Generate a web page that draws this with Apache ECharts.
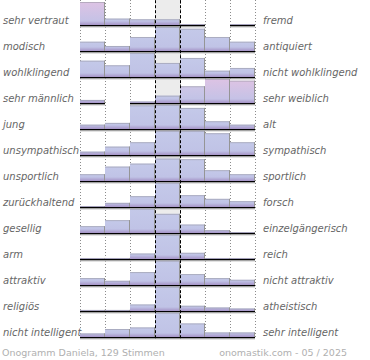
<!DOCTYPE html>
<html><head><meta charset="utf-8">
<script src="https://cdn.jsdelivr.net/npm/echarts@6/dist/echarts.min.js"></script>
<style>html,body{margin:0;padding:0;background:#fff}#c{width:370px;height:360px}</style>
</head><body><div id="c"></div>
<script>
// ---- data ----
const leftLabels = ['sehr vertraut','modisch','wohlklingend','sehr männlich','jung','unsympathisch','unsportlich','zurückhaltend','gesellig','arm','attraktiv','religiös','nicht intelligent'];
const rightLabels = ['fremd','antiquiert','nicht wohlklingend','sehr weiblich','alt','sympathisch','sportlich','forsch','einzelgängerisch','reich','nicht attraktiv','atheistisch','sehr intelligent'];
const steps = ['1','2','3','4','5','6','7'];
// percent of votes per step (tall bars are cut off at the row height)
const sehrVertraut     = [79.3, 6.7, 6, 6, 1, 0, 1];
const modisch          = [9.3, 5, 14, 26.7, 22.3, 14, 9.3];
const wohlklingend     = [16.3, 11.7, 26, 14, 19, 6.3, 9];
const sehrMaennlich    = [3, 0, 1.5, 7.3, 16.7, 49, 22.3];
const jung             = [4.3, 6, 23.6, 33, 21, 7.7, 4.3];
const unsympathisch    = [3.3, 8.3, 12.7, 24.5, 24.5, 21.7, 12.7];
const unsportlich      = [6.7, 14.3, 17.3, 22.3, 21.7, 10.7, 6.7];
const zurueckhaltend   = [0.8, 4, 10.7, 59, 11.7, 8, 5.7];
const gesellig         = [6.7, 12.7, 50, 19, 8.3, 2.7, 0.8];
const arm              = [0.8, 0.8, 5.3, 85, 6, 0.8, 0.8];
const attraktiv        = [6.7, 4, 12.7, 54, 10.7, 6.7, 5];
const religioes        = [0.8, 0.8, 6.3, 81, 5, 3.3, 2.3];
const nichtIntelligent = [3.3, 7.7, 9.3, 58, 13.3, 4.3, 4.3];
const rows = [sehrVertraut, modisch, wohlklingend, sehrMaennlich, jung, unsympathisch, unsportlich, zurueckhaltend, gesellig, arm, attraktiv, religioes, nichtIntelligent];
// [row, step, strength] cells marked as standing out
const highlighted = [[0,0,1],[3,4,0.4],[3,5,1],[3,6,1]];
const neutralStep = 3;
const footerLeft = 'Onogramm Daniela, 129 Stimmen';
const footerRight = 'onomastik.com - 05 / 2025';

// ---- layout ----
const L = 80, W = 175, firstBase = 25, pitch = 25.975, rowMax = 26;
const font = 'DejaVu Sans';

function mixColor(a, b, t) {
  const pa = [1,3,5].map(i => parseInt(a.substr(i,2),16));
  const pb = [1,3,5].map(i => parseInt(b.substr(i,2),16));
  return 'rgb(' + pa.map((v,i) => Math.round(v + (pb[i]-v)*t)).join(',') + ')';
}

function renderBar(params, api) {
  const v = api.value(1);
  if (!(v > 0)) return null;
  const cs = params.coordSys;
  const base = api.coord([api.value(0), 0]);
  const topPt = api.coord([api.value(0), v]);
  const w = api.size([1, 0])[0];
  const x0 = Math.round(base[0] - w / 2), x1 = Math.round(base[0] + w / 2);
  const yb = Math.round(base[1]);
  const yt = Math.max(topPt[1], cs.y + 2);
  const h = yb - yt;
  const hl = api.value(2) || 0;
  const topColor = mixColor('#c4c9e9', '#ddc3e4', hl);
  const midColor = mixColor('#c0c3e6', '#c8c2e6', hl * 0.6);
  const band = Math.min(1, 4 / Math.max(h, 0.01));
  const fill = new echarts.graphic.LinearGradient(0, 0, 0, 1, [
    {offset: 0, color: topColor},
    {offset: Math.max(0, 1 - band), color: midColor},
    {offset: 1, color: '#a593c6'}
  ]);
  return {type: 'group', children: [
    {type: 'rect', shape: {x: x0, y: yt, width: x1 - x0, height: h}, style: {fill: fill}},
    {type: 'line', shape: {x1: x0, y1: yt + 0.5, x2: x1, y2: yt + 0.5}, style: {stroke: 'rgba(150,150,160,0.55)', lineWidth: 1}},
    {type: 'line', shape: {x1: x1 - 0.5, y1: yt, x2: x1 - 0.5, y2: yb}, style: {stroke: '#959595', lineWidth: 1}},
    {type: 'line', shape: {x1: x0, y1: yb + 0.75, x2: x1, y2: yb + 0.75}, style: {stroke: '#000', lineWidth: 1.5}},
    {type: 'line', shape: {x1: x0, y1: yb + 2, x2: x1, y2: yb + 2}, style: {stroke: '#c6c6c6', lineWidth: 1}}
  ]};
}

const grid = [], xAxis = [], yAxis = [], series = [];
rows.forEach((vals, r) => {
  grid.push({left: L, width: W, top: firstBase + r * pitch - pitch, height: pitch});
  xAxis.push({gridIndex: r, type: 'category', data: steps, show: false});
  yAxis.push({gridIndex: r, type: 'value', min: 0, max: rowMax, show: false});
  const data = vals.map((v, c) => {
    const h = highlighted.find(e => e[0] === r && e[1] === c);
    return [c, v, h ? h[2] : 0];
  });
  series.push({type: 'custom', xAxisIndex: r, yAxisIndex: r, z: 2, renderItem: renderBar, data: data, silent: true, animation: false});
});

// labels grid
const gLab = rows.length;
grid.push({left: L, width: W, top: firstBase - 4.5 - pitch / 2, height: pitch * rows.length});
xAxis.push({gridIndex: gLab, type: 'value', show: false});
const labStyle = {fontFamily: font, fontStyle: 'italic', fontSize: 10, color: '#666'};
yAxis.push({gridIndex: gLab, type: 'category', inverse: true, position: 'left', data: leftLabels,
  axisLine: {show: false}, axisTick: {show: false},
  axisLabel: Object.assign({align: 'left', margin: L, interval: 0}, labStyle)});
yAxis.push({gridIndex: gLab, type: 'category', inverse: true, position: 'right', data: rightLabels,
  axisLine: {show: false}, axisTick: {show: false},
  axisLabel: Object.assign({align: 'left', margin: 8, interval: 0}, labStyle)});

// background grid with column lines
const gBg = rows.length + 1;
grid.push({left: L, width: W, top: 0, height: firstBase + (rows.length - 1) * pitch + 1.5});
xAxis.push({gridIndex: gBg, type: 'value', min: 0, max: steps.length, interval: 1,
  axisLine: {show: false}, axisTick: {show: false}, axisLabel: {show: false},
  splitLine: {show: true, lineStyle: {color: '#8c8c8c', width: 1, type: [1, 2]}}});
yAxis.push({gridIndex: gBg, type: 'value', min: 0, max: 1, show: false, splitLine: {show: false}});
series.push({type: 'scatter', xAxisIndex: 2 * 0 + xAxis.length - 1, yAxisIndex: yAxis.length - 1,
  data: [[neutralStep + 0.5, -1]], symbolSize: 0, silent: true, animation: false, z: 1,
  markArea: {silent: true, itemStyle: {color: '#ececec'}, data: [[{xAxis: neutralStep}, {xAxis: neutralStep + 1}]]},
  markLine: {silent: true, symbol: ['none', 'none'], label: {show: false}, animation: false,
    lineStyle: {color: '#000', width: 1, type: [3, 2]},
    data: [{xAxis: neutralStep}, {xAxis: neutralStep + 1}]}
});

const chart = echarts.init(document.getElementById('c'), null, {renderer: 'svg'});
chart.setOption({
  animation: false,
  title: [
    {text: footerLeft, left: 2, top: 347, padding: 0, textStyle: {fontFamily: font, fontSize: 9.5, fontWeight: 'normal', color: '#b0b0b0'}},
    {text: footerRight, right: 23, top: 347, padding: 0, textStyle: {fontFamily: font, fontSize: 9.5, fontWeight: 'normal', color: '#b0b0b0'}}
  ],
  grid, xAxis, yAxis, series
});
</script></body></html>
